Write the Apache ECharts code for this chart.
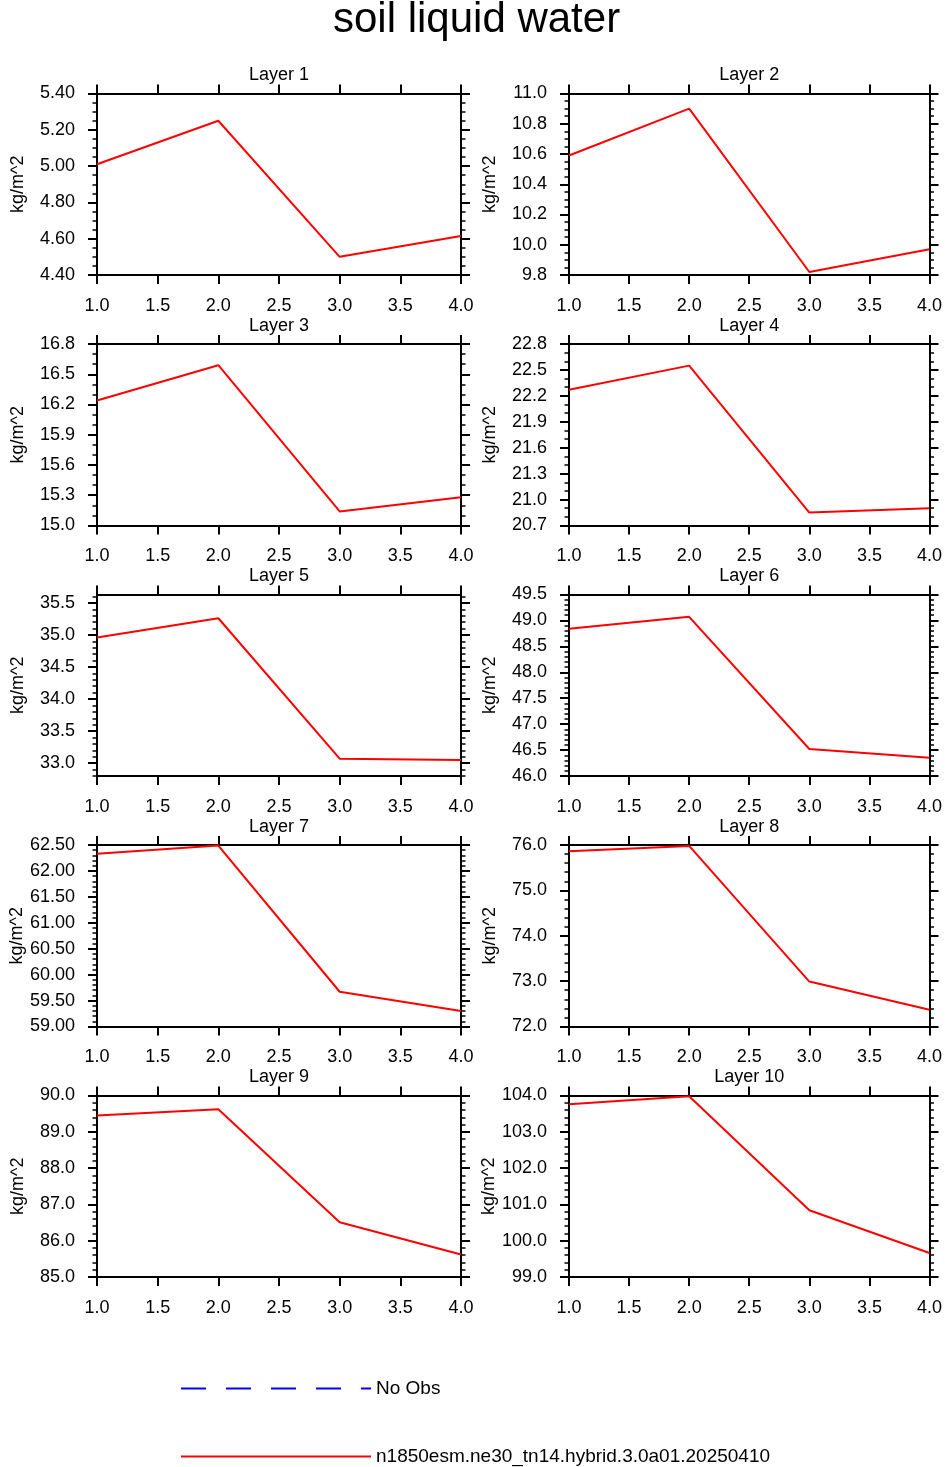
<!DOCTYPE html>
<html><head><meta charset="utf-8">
<script src="https://cdn.jsdelivr.net/npm/echarts@6/dist/echarts.min.js"></script>
<style>html,body{margin:0;padding:0;background:#fff}#c{width:945px;height:1467px}</style>
</head><body><div id="c"></div>
<script>
// ---------- data ----------
const xValues = [1.0, 2.0, 3.0, 4.0];
const layerNames = ['Layer 1','Layer 2','Layer 3','Layer 4','Layer 5','Layer 6','Layer 7','Layer 8','Layer 9','Layer 10'];
const modelName = 'n1850esm.ne30_tn14.hybrid.3.0a01.20250410';
const obsName = 'No Obs';

const layer1  = [5.01, 5.25, 4.50, 4.615];
const layer2  = [10.59, 10.90, 9.82, 9.97];
const layer3  = [16.24, 16.59, 15.14, 15.28];
const layer4  = [22.27, 22.55, 20.85, 20.90];
const layer5  = [34.96, 35.26, 33.07, 33.05];
const layer6  = [48.84, 49.07, 46.52, 46.35];
const layer7  = [62.33, 62.49, 59.67, 59.30];
const layer8  = [75.86, 75.98, 72.99, 72.37];
const layer9  = [89.45, 89.62, 86.51, 85.62];
const layer10 = [103.76, 103.98, 100.84, 99.66];

const yTicks1  = [4.40, 4.60, 4.80, 5.00, 5.20, 5.40];
const yTicks2  = [9.8, 10.0, 10.2, 10.4, 10.6, 10.8, 11.0];
const yTicks3  = [15.0, 15.3, 15.6, 15.9, 16.2, 16.5, 16.8];
const yTicks4  = [20.7, 21.0, 21.3, 21.6, 21.9, 22.2, 22.5, 22.8];
const yTicks5  = [33.0, 33.5, 34.0, 34.5, 35.0, 35.5];
const yTicks6  = [46.0, 46.5, 47.0, 47.5, 48.0, 48.5, 49.0, 49.5];
const yTicks7  = [59.00, 59.50, 60.00, 60.50, 61.00, 61.50, 62.00, 62.50];
const yTicks8  = [72.0, 73.0, 74.0, 75.0, 76.0];
const yTicks9  = [85.0, 86.0, 87.0, 88.0, 89.0, 90.0];
const yTicks10 = [99.0, 100.0, 101.0, 102.0, 103.0, 104.0];

const yMins = [4.40, 9.8, 15.0, 20.7, 32.8, 46.0, 59.0, 72.0, 85.0, 99.0];
const yMaxs = [5.40, 11.0, 16.8, 22.8, 35.63, 49.5, 62.5, 76.0, 90.0, 104.0];
const yMinorSteps = [0.05, 0.05, 0.1, 0.1, 0.1, 0.1, 0.1, 0.2, 0.2, 0.2];
const yDecimals = [2, 1, 1, 1, 1, 1, 2, 1, 1, 1];

const layers = [layer1, layer2, layer3, layer4, layer5, layer6, layer7, layer8, layer9, layer10];
const yTicks = [yTicks1, yTicks2, yTicks3, yTicks4, yTicks5, yTicks6, yTicks7, yTicks8, yTicks9, yTicks10];

// ---------- build ----------
const FONT = '"Liberation Sans", Helvetica, Arial, sans-serif';
function minorTicks(i) {
  const st = yMinorSteps[i], out = [];
  const k0 = Math.ceil(yMins[i] / st - 1e-6), k1 = Math.floor(yMaxs[i] / st + 1e-6);
  for (let k = k0; k <= k1; k++) {
    const v = +(k * st).toFixed(4);
    if (!yTicks[i].some(t => Math.abs(t - v) < 1e-6)) out.push(v);
  }
  return out;
}
const grids = [], xAxes = [], yAxes = [], series = [];
const lineBlack = { color: '#000', width: 2 };
for (let i = 0; i < 10; i++) {
  const col = i % 2, row = Math.floor(i / 2);
  grids.push({ left: col ? 569 : 97, top: 93.5 + row * 250.5, width: 364, height: 181.5, containLabel: false });
  const baseX = {
    gridIndex: i, type: 'value', min: 1, max: 4, interval: 0.5,
    axisLine: { show: true, onZero: false, lineStyle: lineBlack },
    axisTick: { show: true, inside: false, length: 9, lineStyle: { color: '#000', width: 2 } },
    splitLine: { show: false }
  };
  xAxes.push(Object.assign({}, baseX, {
    position: 'bottom',
    axisLabel: { show: true, margin: 22, fontSize: 18, color: '#000', fontFamily: FONT,
      formatter: v => v.toFixed(1) }
  }));
  xAxes.push(Object.assign({}, baseX, {
    position: 'top', axisLabel: { show: false },
    name: layerNames[i], nameLocation: 'middle', nameGap: 9,
    nameTextStyle: { fontSize: 18, color: '#000', fontFamily: FONT }
  }));
  const minors = minorTicks(i);
  const baseY = { gridIndex: i, type: 'value', min: yMins[i], max: yMaxs[i], splitLine: { show: false } };
  const dec = yDecimals[i];
  yAxes.push(Object.assign({}, baseY, {
    position: 'left',
    axisLine: { show: true, onZero: false, lineStyle: lineBlack },
    axisTick: { show: true, inside: false, length: 9, customValues: yTicks[i], lineStyle: { color: '#000', width: 2 } },
    axisLabel: { show: true, customValues: yTicks[i], margin: 22, fontSize: 18, color: '#000', fontFamily: FONT,
      formatter: v => (+v).toFixed(dec) },
    name: 'kg/m^2', nameLocation: 'middle', nameGap: 70,
    nameTextStyle: { fontSize: 18, color: '#000', fontFamily: FONT }
  }));
  yAxes.push(Object.assign({}, baseY, {
    position: 'left', axisLine: { show: false, onZero: false },
    axisTick: { show: true, inside: false, length: 4.5, customValues: minors, lineStyle: { color: '#000', width: 1.5 } },
    axisLabel: { show: false }
  }));
  yAxes.push(Object.assign({}, baseY, {
    position: 'right',
    axisLine: { show: true, onZero: false, lineStyle: lineBlack },
    axisTick: { show: true, inside: false, length: 9, customValues: yTicks[i], lineStyle: { color: '#000', width: 2 } },
    axisLabel: { show: false }
  }));
  yAxes.push(Object.assign({}, baseY, {
    position: 'right', axisLine: { show: false, onZero: false },
    axisTick: { show: true, inside: false, length: 4.5, customValues: minors, lineStyle: { color: '#000', width: 1.5 } },
    axisLabel: { show: false }
  }));
  series.push({
    name: modelName, type: 'line', xAxisIndex: 2 * i, yAxisIndex: 4 * i,
    data: xValues.map((x, j) => [x, layers[i][j]]),
    symbol: 'none', showSymbol: false, silent: true,
    lineStyle: { color: '#ff0000', width: 2 }, itemStyle: { color: '#ff0000' }
  });
}
series.push({
  name: obsName, type: 'line', xAxisIndex: 0, yAxisIndex: 0, data: [],
  symbol: 'none', lineStyle: { color: '#0000ff', width: 1.5, type: [25, 20] }, itemStyle: { color: '#0000ff' }
});

const legendBase = { left: 180, orient: 'horizontal', padding: 0, itemWidth: 190, itemHeight: 20,
  selectedMode: false, itemStyle: { opacity: 0 },
  textStyle: { fontSize: 19, color: '#000', fontFamily: FONT } };

const chart = echarts.init(document.getElementById('c'), null, { renderer: 'canvas' });
chart.setOption({
  animation: false,
  backgroundColor: '#fff',
  title: { text: 'soil liquid water', left: 328, top: -6,
    textStyle: { fontSize: 42, fontWeight: 'normal', color: '#000', fontFamily: FONT } },
  grid: grids, xAxis: xAxes, yAxis: yAxes, series: series,
  legend: [
    Object.assign({}, legendBase, { data: [obsName], top: 1379 }),
    Object.assign({}, legendBase, { data: [modelName], top: 1447 })
  ]
});
</script></body></html>
